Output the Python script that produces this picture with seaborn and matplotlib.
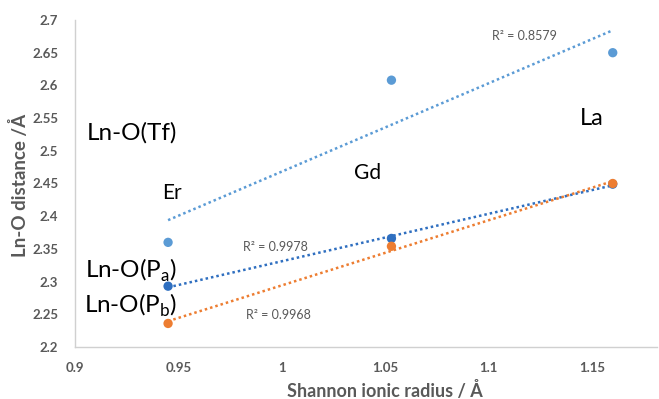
import numpy as np
import pandas as pd
import matplotlib
matplotlib.use("Agg")
import matplotlib.pyplot as plt
import seaborn as sns

# Data
radius = [0.945, 1.053, 1.160]
elements = ["Er", "Gd", "La"]
tf_dist = [2.360, 2.608, 2.650]
pa_dist = [2.293, 2.366, 2.449]
pb_dist = [2.236, 2.354, 2.450]
r2_labels = ["R² = 0.8579", "R² = 0.9978", "R² = 0.9968"]
series_names = ["Ln-O(Tf)", "Ln-O(P$_\\mathregular{a}$)", "Ln-O(P$_\\mathregular{b}$)"]
x_ticks = [0.9, 0.95, 1.0, 1.05, 1.1, 1.15]
x_tick_labels = ["0.9", "0.95", "1", "1.05", "1.1", "1.15"]
y_ticks = [2.2, 2.25, 2.3, 2.35, 2.4, 2.45, 2.5, 2.55, 2.6, 2.65, 2.7]
y_tick_labels = ["2.2", "2.25", "2.3", "2.35", "2.4", "2.45", "2.5", "2.55", "2.6", "2.65", "2.7"]

sns.set_theme(style="white")
plt.rcParams['font.family'] = ['Lato', 'DejaVu Sans']
plt.rcParams['mathtext.fontset'] = 'custom'
plt.rcParams['mathtext.rm'] = 'Lato'

fig = plt.figure(figsize=(6.59, 3.99), dpi=100)
ax = fig.add_axes([75/659, 1-347/399, (657-75)/659, (347-20)/399])

colors = ["#5B9BD5", "#2F6FC0", "#ED7D31"]
dists = [tf_dist, pa_dist, pb_dist]

for d, c in zip(dists, colors):
    df = pd.DataFrame({"x": radius, "y": d})
    sns.regplot(data=df, x="x", y="y", ax=ax, scatter=False, ci=None, truncate=True,
                color=c, line_kws={"linestyle": (0, (1, 1.2)), "lw": 1.8})
for d, c in zip(dists, colors):
    df = pd.DataFrame({"x": radius, "y": d})
    sns.scatterplot(data=df, x="x", y="y", ax=ax, color=c, s=45, edgecolor="none", zorder=5)

ax.set_xlim(0.9, 1.1814)
ax.set_ylim(2.2, 2.7)
ax.set_xticks(x_ticks)
ax.set_xticklabels(x_tick_labels)
ax.set_yticks(y_ticks)
ax.set_yticklabels(y_tick_labels)
ax.tick_params(axis='x', length=0, labelsize=9.5, labelcolor="#595959", pad=11)
ax.tick_params(axis='y', length=0, labelsize=9.5, labelcolor="#595959", pad=12)
for lab in ax.get_xticklabels() + ax.get_yticklabels():
    lab.set_fontweight("bold")
ax.set_xlabel("Shannon ionic radius / Å", fontsize=13, fontweight="bold", color="#595959")
ax.set_ylabel("Ln-O distance /Å", fontsize=13.5, fontweight="bold", color="#595959")
# label centres (in pixels) converted to axes fraction
ax.xaxis.set_label_coords((385-75)/582, -(390-347)/327)
ax.yaxis.set_label_coords(-(75-20)/582, (347-185)/327)
ax.xaxis.label.set_va("center")
ax.yaxis.label.set_va("center")

for s in ["top", "right"]:
    ax.spines[s].set_visible(False)
for s in ["left", "bottom"]:
    ax.spines[s].set_color("#D0D0D0")
    ax.spines[s].set_linewidth(1.0)

# Annotations
ax.text(0.9055, 2.527, series_names[0], fontsize=17.5, color="black", va="center")
ax.text(0.9050, 2.317, series_names[1], fontsize=17.5, color="black", va="center")
ax.text(0.9045, 2.264, series_names[2], fontsize=17.5, color="black", va="center")
ax.text(0.9420, 2.436, elements[0], fontsize=15, color="black", va="center")
ax.text(1.0350, 2.466, elements[1], fontsize=15, color="black", va="center")
ax.text(1.1440, 2.550, elements[2], fontsize=17, color="black", va="center")
ax.text(1.1016, 2.6755, r2_labels[0], fontsize=9, color="#595959", va="center")
ax.text(0.9812, 2.3534, r2_labels[1], fontsize=9, color="#595959", va="center")
ax.text(0.9825, 2.249, r2_labels[2], fontsize=9, color="#595959", va="center")

fig.savefig("out.png", dpi=100, facecolor="white")
